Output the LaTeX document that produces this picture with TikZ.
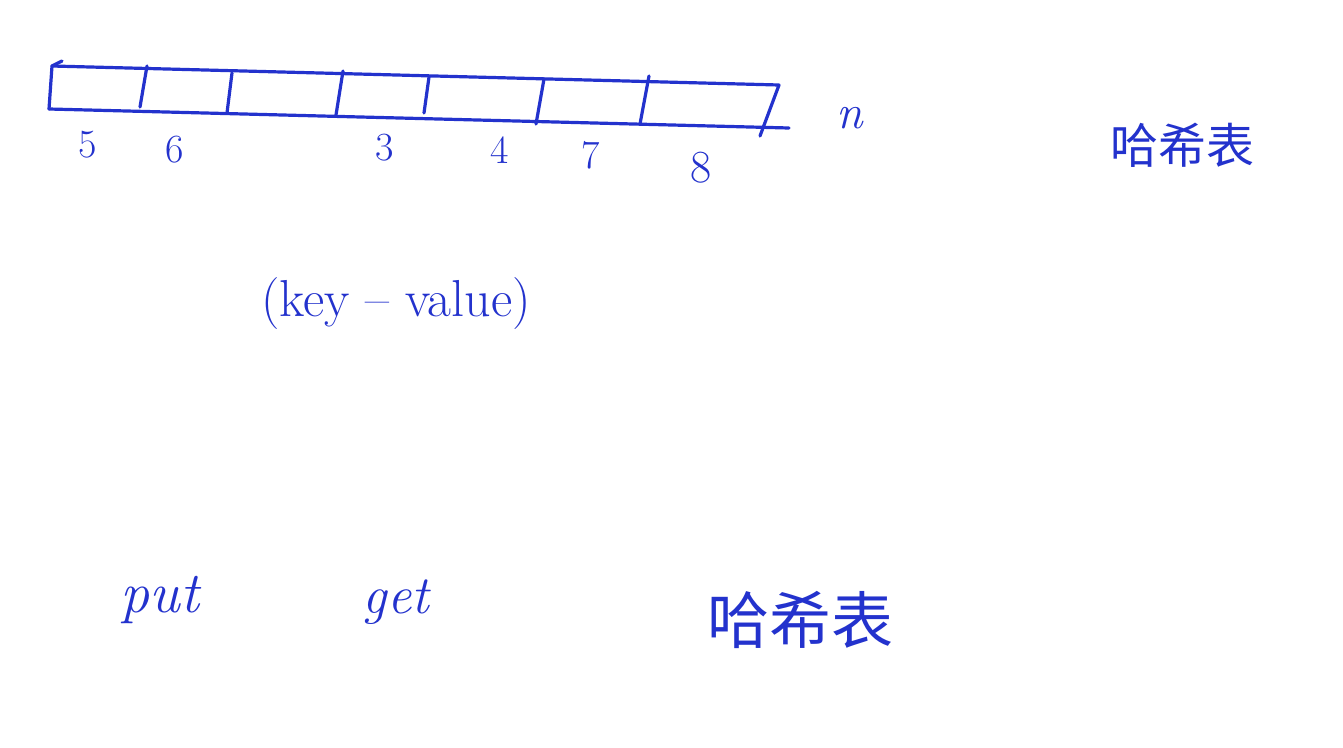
\documentclass[tikz,border=0pt]{standalone}
\usepackage{fontspec}
\newfontfamily\cjk{Noto Sans CJK SC}
\definecolor{ink}{RGB}{35,50,205}
\tikzset{
  pen/.style={draw=ink, line width=3.2pt, line cap=round, line join=round},
  hand/.style={text=ink, inner sep=0pt, anchor=center},
  digit/.style={hand, font=\fontsize{40}{40}\selectfont},
}
\begin{document}
\begin{tikzpicture}[x=1pt,y=-1pt]
\useasboundingbox[fill=white] (0,0) rectangle (1343,747);
% array outline
\coordinate (tl) at (52,66);
\coordinate (tr) at (779,85);
\coordinate (bl) at (49,109);
\coordinate (br) at (789,128);
\coordinate (rb) at (760,136);
\draw[pen] (62,61) -- (tl) -- (bl);
\draw[pen] (tl) -- (tr) -- (rb);
\draw[pen] (bl) -- (br);
% dividers
\draw[pen] (147,66) -- (140,107);
\draw[pen] (232,73) -- (227,113);
\draw[pen] (343,71) -- (336,115);
\draw[pen] (429,77) -- (424,113);
\draw[pen] (544,79) -- (536,124);
\draw[pen] (649,76) -- (640,124);
% numbers
\node[digit] (n5) at (88,145) {5};
\node[digit] (n6) at (175,150) {6};
\node[digit] (n3) at (385,148) {3};
\node[digit] (n4) at (500,150) {4};
\node[digit] (n7) at (591,155) {7};
\node[digit, font=\fontsize{46}{46}\selectfont] (n8) at (701,168) {8};
\node[hand, font=\fontsize{48}{48}\selectfont\itshape] (nn) at (850,118) {n};
% labels
\node[hand, font=\cjk\fontsize{48}{48}\selectfont] (ht1) at (1182,145) {哈希表};
\node[hand, font=\fontsize{52}{52}\selectfont] (kv) at (396,304) {(key -- value)};
\node[hand, font=\fontsize{58}{58}\selectfont\itshape] (put) at (160,600) {put};
\node[hand, font=\fontsize{54}{54}\selectfont\itshape] (get) at (396,602) {get};
\node[hand, font=\cjk\fontsize{62}{62}\selectfont] (ht2) at (800,620) {哈希表};
\end{tikzpicture}
\end{document}
